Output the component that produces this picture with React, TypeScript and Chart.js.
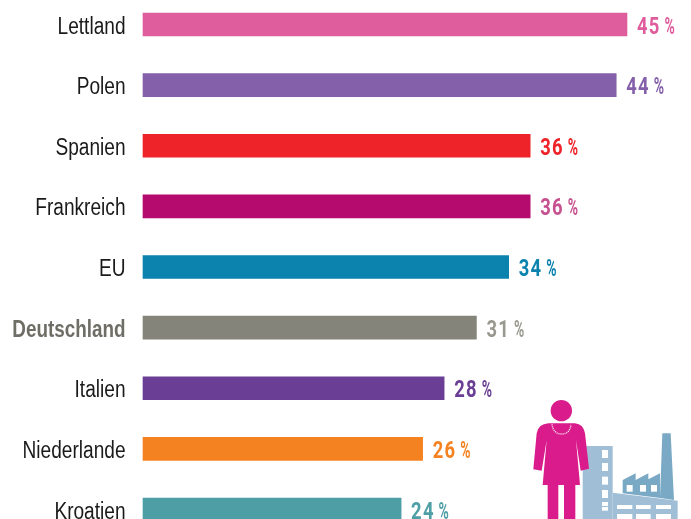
import React, { useEffect, useRef } from "react";
import { Chart, registerables } from "chart.js";

Chart.register(...registerables);

const countries = ["Lettland", "Polen", "Spanien", "Frankreich", "EU", "Deutschland", "Italien", "Niederlande", "Kroatien"];
const shares = [45, 44, 36, 36, 34, 31, 28, 26, 24];
const barColors = ["#DF5C9D", "#8460AA", "#EE2229", "#B50A6E", "#0C82AE", "#85847A", "#6A3E95", "#F58220", "#4E9EA6"];
const valueColors = ["#DF5C9D", "#8460AA", "#EE2229", "#C5528F", "#0C82AE", "#9A998F", "#6A3E95", "#F58220", "#4E9EA6"];
const boldCountry = "Deutschland";

const SANS = '"Liberation Sans", sans-serif';

const valueLabels = {
  id: "valueLabels",
  afterDatasetsDraw(chart: any) {
    const { ctx } = chart;
    const meta = chart.getDatasetMeta(0);
    meta.data.forEach((bar: any, i: number) => {
      ctx.save();
      ctx.textBaseline = "alphabetic";
      ctx.textAlign = "left";
      ctx.fillStyle = valueColors[i];
      ctx.font = `bold 23px Roboto, ${SANS}`;
      (ctx as any).letterSpacing = "1.5px";
      const y = bar.y + 9;
      ctx.save();
      ctx.translate(bar.x + 10, y);
      ctx.scale(0.8, 1);
      ctx.fillText(String(shares[i]), 0, 0);
      ctx.restore();
      (ctx as any).letterSpacing = "0px";
      ctx.font = `bold 24px Roboto, ${SANS}`;
      ctx.translate(bar.x + 37.5, y);
      ctx.scale(0.58, 1);
      ctx.fillText("%", 0, 0);
      ctx.restore();
    });
  },
};

const countryLabels = {
  id: "countryLabels",
  afterDatasetsDraw(chart: any) {
    const { ctx } = chart;
    const yScale = chart.scales.y;
    countries.forEach((name, i) => {
      const bold = name === boldCountry;
      ctx.save();
      ctx.textAlign = "right";
      ctx.textBaseline = "alphabetic";
      ctx.fillStyle = bold ? "#6F6E66" : "#1a1a1a";
      ctx.font = `${bold ? "bold " : ""}23px ${SANS}`;
      ctx.translate(125.5, yScale.getPixelForTick(i) + 9);
      ctx.scale(bold ? 0.82 : 0.83, 1);
      ctx.fillText(name, 0, 0);
      ctx.restore();
    });
  },
};

function Icon() {
  return (
    <svg
      width={171}
      height={129}
      viewBox="0 0 513 387"
      style={{ position: "absolute", left: 520, top: 390, pointerEvents: "none" }}
    >
      <rect x={188} y={168} width={90} height={219} fill="#A0BFD6" />
      <path d="M278 308 L473 332 L473 387 L278 387 Z" fill="#A0BFD6" />
      {[[180, 24], [219, 24], [260, 24], [300, 24], [336, 12], [351, 11]].map(([y, h]) => (
        <rect key={y} x={246} y={y} width={18} height={h} fill="#fff" />
      ))}
      {[291, 348, 408].map((x, i) => (
        <g key={x}>
          <rect x={x} y={345} width={[46, 44, 45][i]} height={12} fill="#fff" />
          <rect x={x} y={372} width={[46, 44, 45][i]} height={15} fill="#fff" />
        </g>
      ))}
      <path d="M427 130 L452 130 L462 330 L420 324 L420 250 L385 268 L385 250 L347 270 L347 250 L308 270 L308 310 L420 324 Z" fill="#7AA9C6" />
      {[320, 360, 393].map((x) => (
        <rect key={x} x={x} y={285} width={18} height={20} fill="#fff" />
      ))}
      <circle cx={124} cy={62} r={32} fill="#D91B8C" />
      <path
        d="M85 100 L165 100 Q190 102 195 130 L207 236 L182 242 L168 150 L180 285 L166 285 L166 387 L132 387 L132 285 L115 285 L115 387 L83 387 L83 285 L68 285 L80 150 L65 242 L40 238 L50 130 Q55 102 85 100 Z"
        fill="#D91B8C"
      />
      <path d="M96 103 Q100 132 125 132 Q150 132 153 103" fill="none" stroke="#fff" strokeWidth={4} strokeDasharray="3 3" />
    </svg>
  );
}

export default function App() {
  const ref = useRef<HTMLCanvasElement>(null);

  useEffect(() => {
    document.body.style.margin = "0";
    const chart = new Chart(ref.current!, {
      type: "bar",
      data: {
        labels: countries,
        datasets: [
          {
            data: shares,
            backgroundColor: barColors,
            barThickness: 23,
            clip: false as any,
          },
        ],
      },
      plugins: [countryLabels, valueLabels],
      options: {
        indexAxis: "y",
        animation: false,
        responsive: false,
        layout: { padding: { top: 24.5, bottom: 9.5, left: 0, right: 10.25 } },
        plugins: { legend: { display: false }, tooltip: { enabled: false } },
        scales: {
          x: { display: false, min: 0, max: 50 },
          y: {
            offset: false,
            border: { display: false },
            grid: { display: false, drawTicks: false },
            ticks: { display: false },
            afterFit(scale: any) {
              scale.width = 143;
              scale.paddingTop = 0;
              scale.paddingBottom = 0;
            },
          },
        },
      },
    });
    return () => chart.destroy();
  }, []);

  return (
    <div style={{ position: "relative", width: 691, height: 519, overflow: "hidden", background: "#fff" }}>
      <canvas ref={ref} width={691} height={519} style={{ display: "block" }} />
      <Icon />
    </div>
  );
}
